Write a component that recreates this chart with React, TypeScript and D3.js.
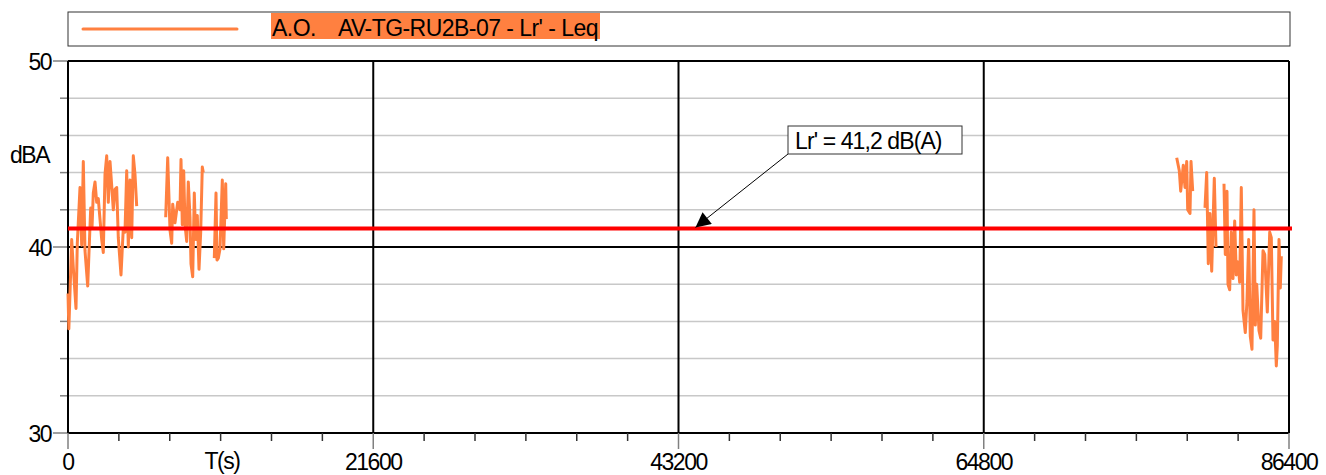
import React from 'react';
import * as d3 from 'd3';

// measurement series: time of day in seconds, Leq in dB(A); null = no data
const timeS = [
  0, 60, 262, 375, 566, 658, 849, 969, 1083, 1203, 1394, 1606, 1698, 1790, 1911, 2031, 2144, 2264,
  2385, 2498, 2618, 2738, 2852, 2972, 3092, 3206, 3326, 3446, 3559, 3750, 3913, 4033, 4154, 4267,
  4387, 4508, 4621, 4741, 4861, 5500,
  6913, 7055, 7218, 7338, 7409, 7571, 7762, 7925, 7996, 8088, 8187, 8279, 8399, 8512, 8633, 8703,
  8824, 8937, 9036, 9149, 9270, 9390, 9503, 9574, 10000,
  10352, 10473, 10544, 10636, 10756, 10919, 11018, 11160, 11202, 12000,
  78454, 78638, 78737, 78921, 79041, 79162, 79232, 79395, 79466, 79586, 80000,
  80456, 80576, 80689, 80809, 80930, 81114, 81234, 81500,
  81800, 81892, 82012, 82083, 82203, 82316, 82436, 82557, 82670, 82790, 82910, 83024, 83144, 83307,
  83427, 83547, 83660, 83781, 83922, 84016, 84115, 84278, 84398, 84561, 84681, 84865, 85035, 85148,
  85268, 85389, 85502, 85573, 85693, 85785, 85856,
];
const leqDb: (number | null)[] = [
  37.5, 35.6, 40.4, 38.9, 36.7, 40.2, 43.2, 40.1, 44.6, 39.8, 37.9, 42.1, 41.0, 42.9, 43.5, 42.4, 42.6, 41.5,
  40.4, 39.7, 43.9, 44.9, 42.4, 44.6, 43.3, 42.0, 43.1, 43.2, 40.5, 38.5, 41.0, 40.8, 44.1, 40.0,
  43.6, 40.5, 44.9, 43.9, 42.2, null,
  41.6, 44.8, 40.9, 40.2, 42.3, 41.3, 42.4, 42.0, 44.7, 41.2, 44.1, 41.2, 40.3, 43.5, 41.6, 39.1,
  38.4, 42.9, 40.4, 41.7, 38.8, 40.8, 44.3, 44.0, null,
  39.4, 42.9, 39.3, 39.4, 39.9, 43.6, 39.9, 43.4, 41.5, null,
  44.8, 44.1, 43.0, 44.4, 43.2, 44.6, 42.0, 41.8, 44.6, 43.0, null,
  42.1, 44.0, 39.1, 41.8, 38.7, 43.7, 40.0, null,
  43.4, 39.6, 43.0, 38.0, 37.7, 40.8, 38.3, 41.4, 38.5, 39.2, 38.1, 43.2, 36.6, 35.4,
  37.1, 40.4, 35.2, 34.5, 42.0, 35.8, 38.0, 35.5, 35.1, 39.8, 39.6, 36.5, 40.8, 40.5,
  35.0, 36.0, 33.6, 34.7, 40.4, 37.8, 39.5,
];

const lrLevel = 41.0; // drawn level of the rating line
const lrLabel = "Lr' = 41,2 dB(A)";
const lrArrowAt = 44400; // time where the label arrow hits the line
const seriesName = "A.O.    AV-TG-RU2B-07 - Lr' - Leq";

const yMajor = [30, 40, 50];
const yMinor = [32, 34, 36, 38, 42, 44, 46, 48];
const xMajor = [0, 21600, 43200, 64800, 86400];
const xMinorStep = 3600;

const W = 1326;
const H = 475;
const left = 68;
const right = 1289;
const top = 61;
const bottom = 433;
const orange = '#ff8040';
const font = '"Liberation Sans", Arial, sans-serif';

export default function App() {
  const x = d3.scaleLinear().domain([0, 86400]).range([left, right]);
  const y = d3.scaleLinear().domain([30, 50]).range([bottom, top]);

  const pts = timeS.map((t, i) => ({ t, v: leqDb[i] }));
  const line = d3
    .line<{ t: number; v: number | null }>()
    .defined((d) => d.v != null)
    .x((d) => x(d.t))
    .y((d) => y(d.v as number));

  const xMinor = d3.range(0, 86400 + 1, xMinorStep).filter((v) => !xMajor.includes(v));
  const yr = y(lrLevel);

  const boxX = 788;
  const boxY = 126;
  const boxW = 174;
  const boxH = 28;

  const txt = { fontFamily: font, fontSize: 23, letterSpacing: '-1.5px', fill: '#000' };

  return (
    <svg
      width={W}
      height={H}
      style={{ position: 'absolute', left: 0, top: 0, display: 'block', background: '#fff' }}
    >
      <defs>
        <marker id="arr" viewBox="0 0 10 10" refX="10" refY="5" markerWidth="24" markerHeight="15"
          markerUnits="userSpaceOnUse" orient="auto">
          <path d="M0,0 L10,5 L0,10 z" fill="#000" />
        </marker>
      </defs>
      <rect x={0} y={0} width={W} height={H} fill="#fff" />

      {/* legend */}
      <rect x={left} y={12} width={right - left + 1} height={34} fill="#fff" stroke="#333" strokeWidth={1} />
      <line x1={83} x2={237} y1={29} y2={29} stroke={orange} strokeWidth={3} strokeLinecap="round" />
      <rect x={271} y={13} width={329} height={26} fill={orange} />
      <text x={272} y={36} style={{ ...txt, whiteSpace: 'pre' }} xmlSpace="preserve"
        textLength={325} lengthAdjust="spacing">{seriesName}</text>

      {/* grid */}
      {yMinor.map((v) => (
        <g key={'ym' + v}>
          <line x1={left} x2={right} y1={y(v)} y2={y(v)} stroke="#c8c8c8" strokeWidth={1.5} />
          <line x1={60} x2={left} y1={y(v)} y2={y(v)} stroke="#808080" strokeWidth={1.5} />
        </g>
      ))}
      {yMajor.map((v) => (
        <g key={'yM' + v}>
          <line x1={left} x2={right} y1={y(v)} y2={y(v)} stroke="#000" strokeWidth={2} />
          <line x1={53} x2={left} y1={y(v)} y2={y(v)} stroke="#808080" strokeWidth={1.5} />
          <text x={51} y={y(v) + 8.5} textAnchor="end" style={txt}>{v}</text>
        </g>
      ))}
      {xMajor.map((v) => (
        <g key={'xM' + v}>
          <line x1={x(v)} x2={x(v)} y1={top} y2={bottom} stroke="#000" strokeWidth={2} />
          <line x1={x(v)} x2={x(v)} y1={bottom} y2={449} stroke="#808080" strokeWidth={1.5} />
          <text x={x(v)} y={470} textAnchor="middle" style={txt}>{v}</text>
        </g>
      ))}
      {xMinor.map((v) => (
        <line key={'xm' + v} x1={x(v)} x2={x(v)} y1={bottom} y2={441} stroke="#333" strokeWidth={1.5} />
      ))}

      <text x={222} y={469} textAnchor="middle" style={txt}>T(s)</text>
      <text x={10} y={163} style={txt}>dBA</text>

      {/* data */}
      <path d={line(pts) ?? ''} fill="none" stroke={orange} strokeWidth={3} strokeLinejoin="round" />

      {/* rating level */}
      <line x1={left} x2={right + 3} y1={yr} y2={yr} stroke="#ff0000" strokeWidth={4} />

      {/* annotation */}
      <line x1={boxX} y1={boxY + boxH} x2={x(lrArrowAt)} y2={yr - 1} stroke="#000" strokeWidth={1} markerEnd="url(#arr)" />
      <rect x={boxX} y={boxY} width={boxW} height={boxH} fill="#fff" stroke="#333" strokeWidth={1} />
      <text x={boxX + 7} y={boxY + 23} style={txt} textLength={146} lengthAdjust="spacing">{lrLabel}</text>
    </svg>
  );
}
